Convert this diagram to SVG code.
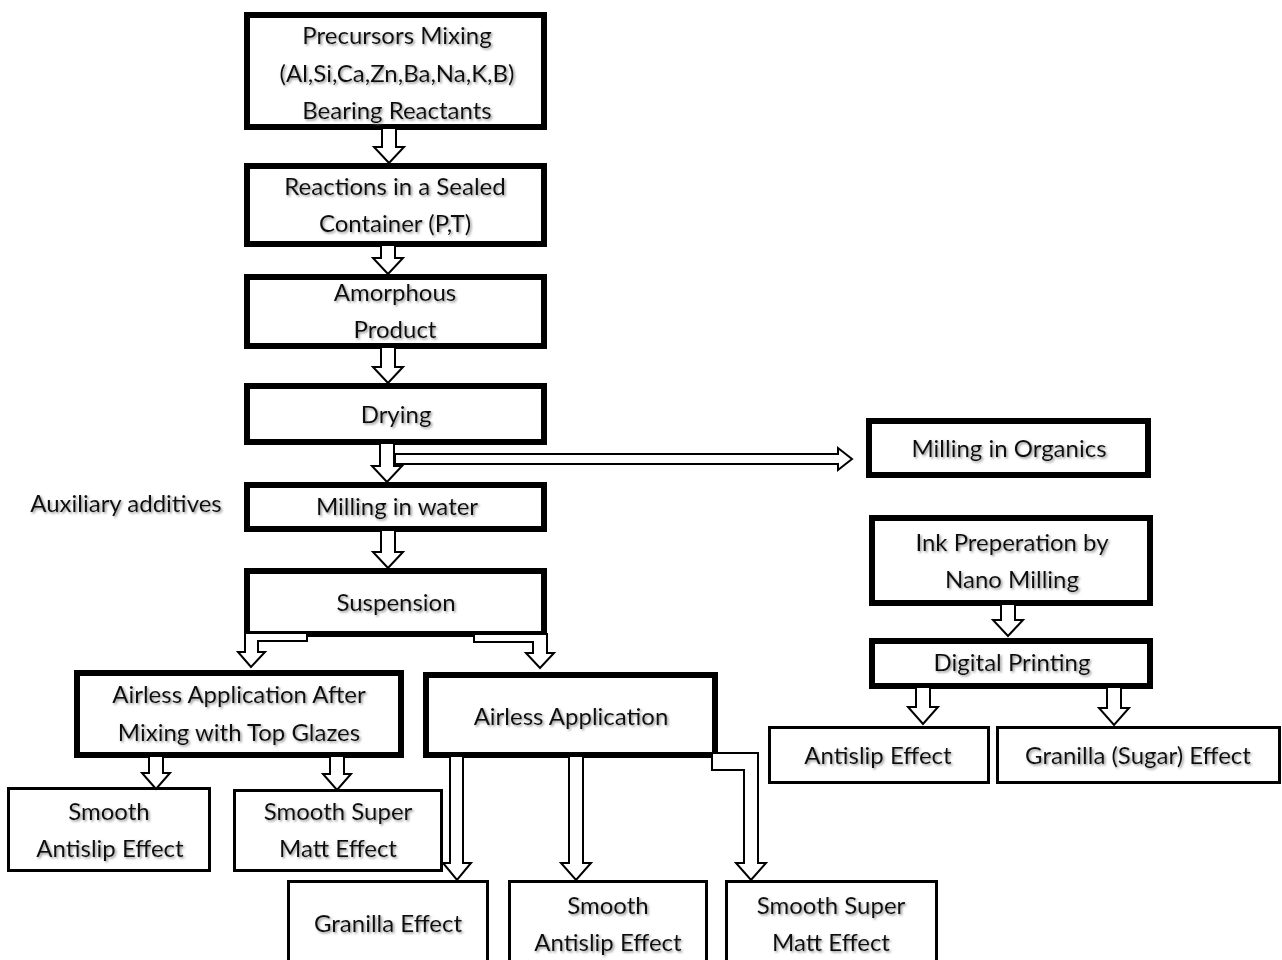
<svg xmlns="http://www.w3.org/2000/svg" width="1282" height="960" viewBox="0 0 1282 960">
<defs>
<filter id="sh" x="-5%" y="-20%" width="110%" height="150%"><feDropShadow dx="1.5" dy="1.5" stdDeviation="1" flood-color="#777" flood-opacity="0.8"/></filter>
</defs>
<style>
.bx{fill:#fff;stroke:#000;stroke-width:6}
.tb{fill:#fff;stroke:#000;stroke-width:3}
.t{font-family:Lato,"Liberation Sans",sans-serif;font-size:24px;fill:#111;text-anchor:middle;filter:url(#sh)}
.ar{fill:#fff;stroke:#000;stroke-width:2;stroke-linejoin:miter}
</style>
<rect width="1282" height="960" fill="#fff"/>
<g id="n1"><rect class="bx" x="247" y="15" width="297" height="112"/><text class="t" x="397" y="44">Precursors Mixing</text><text class="t" x="397" y="82">(Al,Si,Ca,Zn,Ba,Na,K,B)</text><text class="t" x="397" y="119">Bearing Reactants</text></g>
<g id="n2"><rect class="bx" x="247" y="166" width="297" height="78"/><text class="t" x="395" y="195">Reactions in a Sealed</text><text class="t" x="395" y="232">Container (P,T)</text></g>
<g id="n3"><rect class="bx" x="247" y="277" width="297" height="69"/><text class="t" x="395" y="301">Amorphous</text><text class="t" x="395" y="338">Product</text></g>
<g id="n4"><rect class="bx" x="247" y="386" width="297" height="56"/><text class="t" x="396" y="423">Drying</text></g>
<g id="n5"><rect class="bx" x="247" y="485" width="297" height="44"/><text class="t" x="397" y="515">Milling in water</text></g>
<g id="aux"><text class="t" x="126" y="512">Auxiliary additives</text></g>
<g id="n6"><rect class="bx" x="247" y="571" width="297" height="63"/><text class="t" x="396" y="611">Suspension</text></g>
<g id="n7"><rect class="bx" x="77" y="673" width="324" height="82"/><text class="t" x="239" y="703">Airless Application After</text><text class="t" x="239" y="741">Mixing with Top Glazes</text></g>
<g id="n8"><rect class="bx" x="426" y="675" width="289" height="80"/><text class="t" x="571" y="725">Airless Application</text></g>
<g id="n9"><rect class="tb" x="8.5" y="788.5" width="201" height="82"/><text class="t" x="109" y="820">Smooth</text><text class="t" x="110" y="857">Antislip Effect</text></g>
<g id="n10"><rect class="tb" x="234.5" y="790.5" width="207" height="80"/><text class="t" x="338" y="820">Smooth Super</text><text class="t" x="338" y="857">Matt Effect</text></g>
<g id="n11"><rect class="tb" x="288.5" y="881.5" width="199" height="90"/><text class="t" x="388" y="932">Granilla Effect</text></g>
<g id="n12"><rect class="tb" x="509.5" y="881.5" width="197" height="90"/><text class="t" x="608" y="914">Smooth</text><text class="t" x="608" y="951">Antislip Effect</text></g>
<g id="n13"><rect class="tb" x="726.5" y="881.5" width="210" height="90"/><text class="t" x="831" y="914">Smooth Super</text><text class="t" x="831" y="951">Matt Effect</text></g>
<g id="n14"><rect class="bx" x="869" y="421" width="279" height="54"/><text class="t" x="1009" y="457">Milling in Organics</text></g>
<g id="n15"><rect class="bx" x="872" y="518" width="278" height="85"/><text class="t" x="1012" y="551">Ink Preperation by</text><text class="t" x="1012" y="588">Nano Milling</text></g>
<g id="n16"><rect class="bx" x="872" y="641" width="278" height="45"/><text class="t" x="1012" y="671">Digital Printing</text></g>
<g id="n17"><rect class="tb" x="769.5" y="727.5" width="219" height="55"/><text class="t" x="878" y="764">Antislip Effect</text></g>
<g id="n18"><rect class="tb" x="997.5" y="727.5" width="282" height="55"/><text class="t" x="1138" y="764">Granilla (Sugar) Effect</text></g>
<g id="connectors">
<path class="ar" d="M382,128 H396 V147 H404 L389,163 L374,147 H382 Z"/>
<path class="ar" d="M381,245 H395 V258 H403 L388,274 L373,258 H381 Z"/>
<path class="ar" d="M381,347 H395 V367 H403 L388,383 L373,367 H381 Z"/>
<path class="ar" d="M395,454 H838 V448 L852,459 L838,470 V464 H395 Z"/>
<path class="ar" d="M380,443 H394 V466 H402 L387,482 L372,466 H380 Z"/>
<path class="ar" d="M381,530 H395 V552 H403 L388,568 L373,552 H381 Z"/>
<path class="ar" d="M307,633 H245 V652 H238 L251,667 L265,652 H258 V641 H307 Z"/>
<path class="ar" d="M474,634 H547 V653 H554 L540,668 L526,653 H533 V642 H474 Z"/>
<path class="ar" d="M149,756 H163 V773 H170 L156,789 L142,773 H149 Z"/>
<path class="ar" d="M330,756 H344 V774 H351 L337,790 L323,774 H330 Z"/>
<path class="ar" d="M450,756 H463 V863 H471 L457,880 L443,863 H450 Z"/>
<path class="ar" d="M569,756 H583 V863 H591 L576,880 L561,863 H569 Z"/>
<path class="ar" d="M712,753 H758 V863 H766 L751,880 L736,863 H744 V770 H712 Z"/>
<path class="ar" d="M1001,604 H1015 V620 H1023 L1008,636 L993,620 H1001 Z"/>
<path class="ar" d="M916,687 H930 V707 H938 L923,724 L908,707 H916 Z"/>
<path class="ar" d="M1107,687 H1121 V708 H1129 L1114,725 L1099,708 H1107 Z"/>
</g>
</svg>
